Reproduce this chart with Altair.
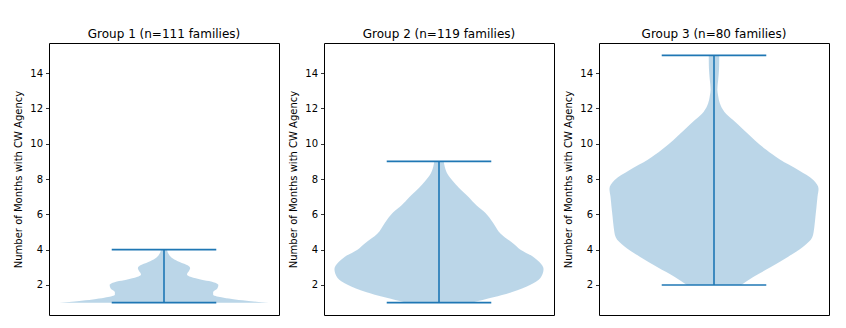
import altair as alt
import pandas as pd

titles = ["Group 1 (n=111 families)", "Group 2 (n=119 families)", "Group 3 (n=80 families)"]
mins = [1, 1, 2]
maxs = [4, 9, 15]

# violin half-widths (relative to the widest point)
g1_y = [1.0, 1.05, 1.1, 1.2, 1.3, 1.45, 1.6, 1.8, 2.0, 2.1, 2.2, 2.3, 2.45, 2.6, 2.8, 2.95, 3.1, 3.3, 3.5, 3.7, 3.85, 4.0]
g1_w = [1.0, 0.88, 0.79, 0.65, 0.55, 0.47, 0.47, 0.51, 0.52, 0.50, 0.45, 0.36, 0.26, 0.22, 0.24, 0.25, 0.23, 0.15, 0.085, 0.05, 0.035, 0.03]

g2_y = [1.0, 1.3, 1.6, 2.0, 2.4, 2.9, 3.3, 3.6, 4.0, 4.35, 4.9, 5.5, 6.1, 6.5, 7.0, 7.5, 7.9, 8.3, 8.7, 9.0]
g2_w = [0.31, 0.52, 0.70, 0.87, 0.97, 1.0, 0.96, 0.90, 0.78, 0.71, 0.59, 0.52, 0.44, 0.36, 0.28, 0.19, 0.13, 0.08, 0.055, 0.045]

g3_y = [2.0, 2.45, 3.0, 3.6, 4.15, 4.7, 5.3, 5.85, 6.4, 7.0, 7.45, 7.95, 8.5, 9.1, 9.65, 10.2, 10.8, 11.35, 11.8, 12.3, 12.7, 13.05, 13.6, 14.2, 14.75, 15.0]
g3_w = [0.26, 0.375, 0.54, 0.71, 0.85, 0.94, 0.96, 0.97, 0.98, 0.99, 1.0, 0.95, 0.81, 0.63, 0.50, 0.39, 0.28, 0.18, 0.10, 0.055, 0.04, 0.032, 0.04, 0.048, 0.05, 0.05]

violins = [(g1_y, g1_w), (g2_y, g2_w), (g3_y, g3_w)]

BLUE = "#1f77b4"
yscale = alt.Scale(domain=[0.3, 15.7], nice=False, zero=False)
xscale = alt.Scale(domain=[0.725, 1.275], nice=False, zero=False)
yaxis = alt.Axis(values=[2, 4, 6, 8, 10, 12, 14], title="Number of Months with CW Agency")


def panel(i):
    ys, ws = violins[i]
    df = pd.DataFrame({"y": ys, "w": ws})
    area = alt.Chart(df).transform_calculate(
        xa="1 - 0.25*datum.w", xb="1 + 0.25*datum.w"
    ).mark_area(color=BLUE, opacity=0.3, orient="horizontal", interpolate="monotone").encode(
        y=alt.Y("y:Q", scale=yscale, axis=yaxis),
        x=alt.X("xa:Q", scale=xscale, axis=None, stack=None),
        x2="xb:Q",
    )
    caps_df = pd.DataFrame({"y": [mins[i], maxs[i]]})
    caps = alt.Chart(caps_df).mark_rule(color=BLUE, strokeWidth=1.6).encode(
        y=alt.Y("y:Q", scale=yscale, axis=yaxis),
        x=alt.datum(0.875, scale=xscale),
        x2=alt.datum(1.125),
    )
    bar_df = pd.DataFrame({"y": [mins[i]], "y2": [maxs[i]]})
    bar = alt.Chart(bar_df).mark_rule(color=BLUE, strokeWidth=1.6).encode(
        y=alt.Y("y:Q", scale=yscale, axis=yaxis),
        y2="y2:Q",
        x=alt.datum(1.0, scale=xscale),
    )
    return alt.layer(area, caps, bar).properties(
        width=230, height=272,
        title=alt.TitleParams(titles[i], fontSize=12, font="DejaVu Sans", fontWeight="normal", color="black", offset=2),
    )


chart = alt.hconcat(panel(0), panel(1), panel(2), spacing=8).properties(
    padding={"left": 5, "top": 19, "right": 0, "bottom": 0}
).configure_view(
    stroke="black", strokeWidth=1
).configure_axis(
    grid=False, domain=False,
    labelFont="DejaVu Sans", labelFontSize=10, labelColor="black", labelPadding=3,
    tickColor="black", tickSize=3.5, tickWidth=0.8,
    titleFont="DejaVu Sans", titleFontSize=10, titleFontWeight="normal", titleColor="black", titlePadding=6,
)

chart.save("out.html", embed_options={"renderer": "svg", "actions": False})
